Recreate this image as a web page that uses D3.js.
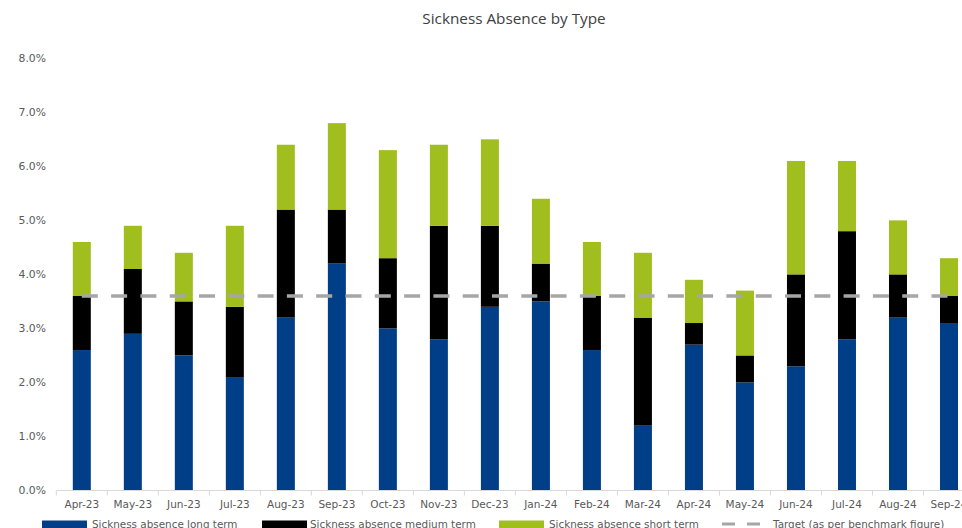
<!DOCTYPE html>
<html><head><meta charset="utf-8">
<script src="https://cdn.jsdelivr.net/npm/d3@7"></script>
<style>body{margin:0;background:#fff;overflow:hidden}svg{display:block}</style>
</head><body><svg id="c" width="962" height="528"></svg>
<script>
const categories = ["Apr-23","May-23","Jun-23","Jul-23","Aug-23","Sep-23","Oct-23","Nov-23","Dec-23","Jan-24","Feb-24","Mar-24","Apr-24","May-24","Jun-24","Jul-24","Aug-24","Sep-24"];
const longTerm   = [2.6,2.9,2.5,2.1,3.2,4.2,3.0,2.8,3.4,3.5,2.6,1.2,2.7,2.0,2.3,2.8,3.2,3.1];
const mediumTerm = [1.0,1.2,1.0,1.3,2.0,1.0,1.3,2.1,1.5,0.7,1.0,2.0,0.4,0.5,1.7,2.0,0.8,0.5];
const shortTerm  = [1.0,0.8,0.9,1.5,1.2,1.6,2.0,1.5,1.6,1.2,1.0,1.2,0.8,1.2,2.1,1.3,1.0,0.7];
const target     = [3.6,3.6,3.6,3.6,3.6,3.6,3.6,3.6,3.6,3.6,3.6,3.6,3.6,3.6,3.6,3.6,3.6,3.6];
const yTicks = [0,1,2,3,4,5,6,7,8];
const seriesNames = ["Sickness absence long term","Sickness absence medium term","Sickness absence short term","Target (as per benchmark figure)"];
const colors = ["#003f87","#000000","#a0be1e","#a6a6a6"];

const svg = d3.select("#c");
const font = "'DejaVu Sans', Verdana, sans-serif";
const x = d3.scaleBand().domain(categories).range([56.3, 974.5]).paddingInner(0.647).paddingOuter(0.3235);
const y = d3.scaleLinear().domain([0, 8]).range([490.5, 58.3]);

svg.append("text").attr("x", 514).attr("y", 23.5).attr("text-anchor", "middle")
  .attr("font-family", "'Open Sans', sans-serif").attr("font-size", 15.3).attr("fill", "#404040")
  .text("Sickness Absence by Type");

// y labels
svg.append("g").selectAll("text").data(yTicks).join("text")
  .attr("x", 46).attr("y", d => y(d) + 3.8).attr("text-anchor", "end")
  .attr("font-family", font).attr("font-size", 10.8).attr("fill", "#595959")
  .text(d => d.toFixed(1) + "%");

// stacked bars
const rows = categories.map((c, i) => ({cat: c, long: longTerm[i], medium: mediumTerm[i], short: shortTerm[i]}));
const stack = d3.stack().keys(["long", "medium", "short"])(rows);
svg.append("g").selectAll("g").data(stack).join("g")
  .attr("fill", (d, i) => colors[i])
  .selectAll("rect").data(d => d).join("rect")
  .attr("x", d => x(d.data.cat)).attr("width", x.bandwidth())
  .attr("y", d => y(d[1])).attr("height", d => y(d[0]) - y(d[1]));

// x axis
const axisY = 490.5;
const step = x.step();
const x0 = x.range()[0];
const ax = svg.append("g");
ax.append("line").attr("x1", x0).attr("x2", 962).attr("y1", axisY).attr("y2", axisY)
  .attr("stroke", "#d9d9d9").attr("stroke-width", 1);
ax.selectAll("line.t").data(d3.range(categories.length + 1)).join("line").attr("class", "t")
  .attr("x1", i => x0 + i * step).attr("x2", i => x0 + i * step)
  .attr("y1", axisY).attr("y2", axisY + 5).attr("stroke", "#d9d9d9");
ax.selectAll("text").data(categories).join("text")
  .attr("x", d => x(d) + x.bandwidth() / 2).attr("y", 507.5).attr("text-anchor", "middle")
  .attr("font-family", font).attr("font-size", 10.5).attr("fill", "#595959").text(d => d);

// target line
const line = d3.line().x((d, i) => x(categories[i]) + x.bandwidth() / 2).y(d => y(d));
svg.append("path").datum(target).attr("d", line).attr("fill", "none")
  .attr("stroke", colors[3]).attr("stroke-width", 3.5).attr("stroke-dasharray", "16,13.3");

// legend
const leg = svg.append("g");
const legItems = [
  {sx: 42, tx: 92},
  {sx: 262, tx: 310},
  {sx: 499, tx: 549},
  {sx: 722, tx: 773}
];
legItems.forEach((it, i) => {
  if (i < 3) {
    leg.append("rect").attr("x", it.sx).attr("y", 520.5).attr("width", 45).attr("height", 8).attr("fill", colors[i]);
  } else {
    leg.append("line").attr("x1", it.sx).attr("x2", it.sx + 38).attr("y1", 524).attr("y2", 524)
      .attr("stroke", colors[3]).attr("stroke-width", 3).attr("stroke-dasharray", "13,12");
  }
  leg.append("text").attr("x", it.tx).attr("y", 528).attr("font-family", font).attr("font-size", 10.4)
    .attr("fill", "#595959").text(seriesNames[i]);
});
</script></body></html>
